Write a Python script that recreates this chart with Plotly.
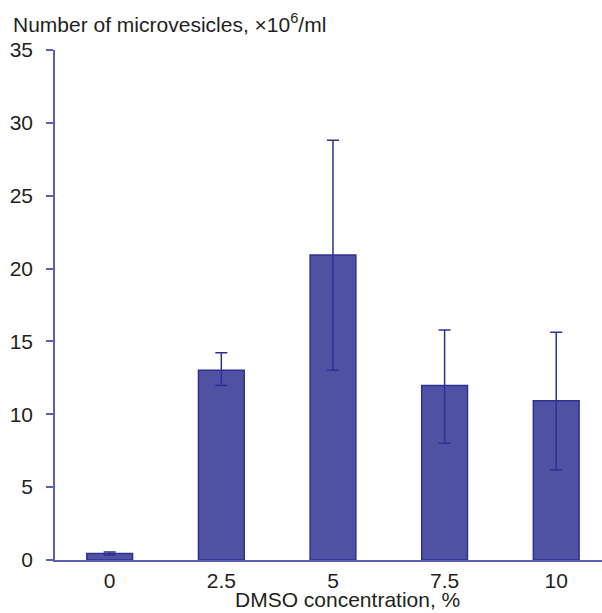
import plotly.graph_objects as go

categories = ["0", "2.5", "5", "7.5", "10"]
values = [0.45, 13.03, 20.93, 11.98, 10.93]
err_plus = [0.1, 1.2, 7.87, 3.8, 4.7]
err_minus = [0.1, 1.05, 7.9, 3.96, 4.74]
y_ticks = [0, 5, 10, 15, 20, 25, 30, 35]

FONT = "Liberation Sans"
TXT = "#231f20"

fig = go.Figure()
fig.add_trace(go.Bar(
    x=list(range(len(categories))), y=values,
    width=0.41,
    marker=dict(color="#4f52a3", line=dict(color="#2e3192", width=1.5)),
    error_y=dict(type="data", symmetric=False, array=err_plus, arrayminus=err_minus,
                 color="#2e3192", thickness=1.5, width=6),
))

fig.update_layout(
    width=602, height=613,
    margin=dict(l=55, r=0, t=50, b=53),
    plot_bgcolor="white", paper_bgcolor="white",
    showlegend=False,
    font=dict(family=FONT, size=21, color=TXT),
    xaxis=dict(
        range=[-0.49, 4.41], tickmode="array",
        tickvals=list(range(len(categories))), ticktext=categories,
        showline=True, linecolor="#5b5fb5", linewidth=1.5,
        ticks="", showgrid=False, zeroline=False,
        tickfont=dict(family=FONT, size=21, color=TXT), ticklabelstandoff=1,
    ),
    yaxis=dict(
        range=[0, 35], tickvals=y_ticks,
        showline=True, linecolor="#5b5fb5", linewidth=1.5,
        ticks="outside", ticklen=7, tickcolor="#5b5fb5", tickwidth=1.5,
        showgrid=False, zeroline=False,
        tickfont=dict(family=FONT, size=21, color=TXT), ticklabelstandoff=9,
    ),
    annotations=[
        dict(text="Number of microvesicles, \u00d710<sup>6</sup>/ml",
             xref="paper", yref="paper", x=(11 - 55) / 547, y=1 + (50 - 23) / 510,
             xanchor="left", yanchor="middle", showarrow=False,
             font=dict(family=FONT, size=21, color=TXT)),
        dict(text="DMSO concentration, %",
             xref="paper", yref="paper", x=(347 - 55) / 547, y=-(613 - 560) / 510,
             xanchor="center", yanchor="bottom", showarrow=False,
             font=dict(family=FONT, size=21, color=TXT)),
    ],
)

fig.write_html("out.html")
